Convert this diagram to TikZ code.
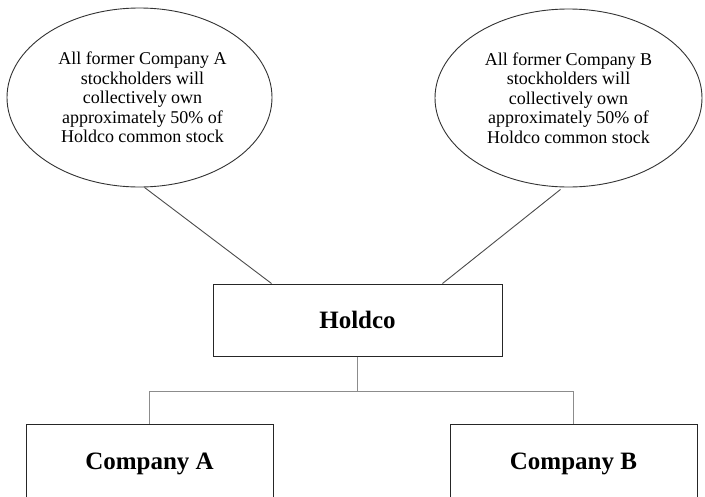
\documentclass[tikz,border=0pt]{standalone}
\usepackage{fontspec}
\setmainfont{Liberation Serif}
\usetikzlibrary{shapes.geometric,calc}
\begin{document}
\begin{tikzpicture}[x=1pt,y=-1pt,
  bubble/.style={draw=black!80,line width=0.9pt,ellipse,inner sep=0pt,
    align=center,font=\fontsize{18}{19.5}\selectfont},
  entity/.style={draw=black!85,line width=1pt,rectangle,inner sep=0pt,
    font=\fontsize{25}{28}\selectfont\bfseries},
  link/.style={draw=black!70,line width=0.9pt},
  tree/.style={draw=black!45,line width=1.2pt}]
\clip (0,0) rectangle (705,496);
\fill[white] (0,0) rectangle (705,496);
\node[bubble,minimum width=265,minimum height=179] (ea) at (139.5,97.5)
  {\hspace*{6pt}All former Company A\\\hspace*{6pt}stockholders will\\\hspace*{6pt}collectively own\\\hspace*{6pt}approximately 50\% of\\\hspace*{6pt}Holdco common stock};
\node[bubble,minimum width=267,minimum height=178] (eb) at (568.5,98)
  {All former Company B\\stockholders will\\collectively own\\approximately 50\% of\\Holdco common stock};
\node[entity,minimum width=289,minimum height=72] (holdco) at (357.5,320) {Holdco};
\node[entity,minimum width=247,minimum height=80] (ca) at (149.5,464) {Company A};
\node[entity,minimum width=247,minimum height=80] (cb) at (573.5,464) {Company B};
\coordinate (hl) at ($(holdco.north west)+(59,0)$);
\coordinate (hr) at ($(holdco.north east)+(-60,0)$);
\coordinate (ea1) at ($(ea.south)+(5,0)$);
\coordinate (eb1) at ($(eb.south)+(-8,2)$);
\draw[link] (ea1) -- (hl);
\draw[link] (eb1) -- (hr);
\coordinate (split) at ($(holdco.south)+(0,35)$);
\draw[tree] (holdco.south) -- (split);
\draw[tree] (split) -| (ca.north);
\draw[tree] (split) -| (cb.north);
\end{tikzpicture}
\end{document}
